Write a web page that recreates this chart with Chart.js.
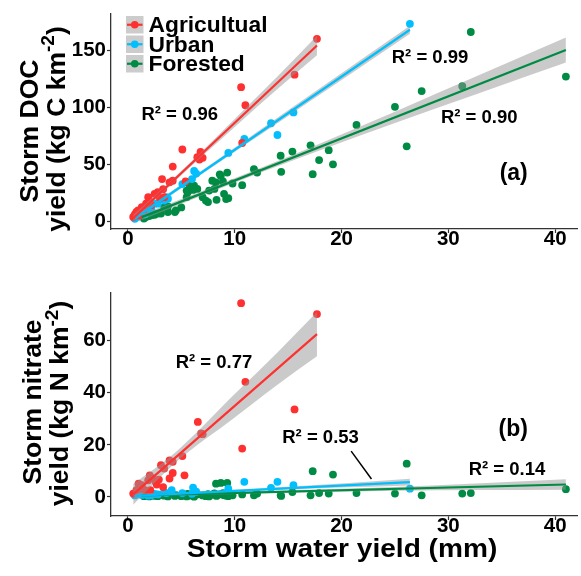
<!DOCTYPE html>
<html><head><meta charset="utf-8">
<script src="https://cdn.jsdelivr.net/npm/chart.js@4.4.0/dist/chart.umd.min.js"></script>
<style>
html,body{margin:0;padding:0;background:#fff;}
#wrap{position:relative;width:581px;height:576px;overflow:hidden;background:#fff;}
canvas{position:absolute;left:0;}
</style></head><body>
<div id="wrap">
<canvas id="cA" width="581" height="262" style="top:0px"></canvas>
<canvas id="cB" width="581" height="314" style="top:262px"></canvas>
</div>
<script>
// ---------- data ----------
const categories = ['Agricultual', 'Urban', 'Forested'];
const xTickValues = [0, 10, 20, 30, 40];
const docTickValues = [0, 50, 100, 150];
const no3TickValues = [0, 20, 40, 60];

// Panel (a): storm DOC yield (kg C km-2) vs storm water yield (mm)
const agWaterA = [0.5, 0.65, 0.8, 0.96, 1.1, 1.3, 1.5, 1.7, 1.9, 2.0, 2.2, 2.5, 2.8, 3.0, 3.2, 3.3, 3.4, 3.9, 4.2, 4.2, 5.1, 5.4, 6.5, 6.7, 6.8, 7.0, 10.6, 10.7, 11.0, 15.6, 17.7];
const agDoc    = [3.7, 6, 8, 9.5, 5, 12.3, 10, 15.3, 21, 18, 14, 23.9, 25.3, 20, 36.9, 28, 21, 34, 35.4, 47.8, 62.8, 34.8, 56, 54, 60.7, 55.5, 117.4, 68.5, 101.6, 128.4, 159.8];
const urWaterA = [0.65, 0.9, 1.3, 1.6, 1.9, 2.2, 2.5, 2.8, 3.4, 3.6, 3.75, 5.1, 6.0, 6.2, 6.4, 9.4, 10.9, 13.4, 14.0, 15.5, 26.4];
const urDoc    = [2, 3.7, 8, 6, 12.3, 10, 15.3, 15.3, 18, 21, 19.6, 32.5, 36.9, 44, 41.7, 59.8, 72, 85.8, 75.5, 95.3, 173];
const foWaterA = [1.5, 1.7, 2.0, 2.2, 2.5, 2.8, 3.1, 3.4, 3.75, 3.75, 4.4, 4.5, 5.0, 5.5, 5.5, 5.6, 5.8, 6.1, 6.2, 6.5, 7.0, 7.3, 7.5, 7.6, 7.9, 8.1, 8.25, 8.3, 8.6, 8.7, 8.9, 9.0, 9.2, 9.3, 9.4, 9.8, 10.7, 11.8, 12.1, 14.3, 14.35, 15.4, 17.1, 17.3, 17.9, 18.8, 19.2, 21.4, 25.0, 26.1, 27.5, 31.3, 32.1, 41.0];
const foDoc    = [2.3, 3.7, 4.5, 5.2, 5.5, 6.6, 6.6, 12.3, 8, 13, 8, 9.5, 12, 21, 26.8, 25.3, 31, 27.4, 31, 28.2, 21, 18, 16.7, 26.8, 35.4, 28.2, 34, 18.7, 41, 39.7, 34.8, 23.9, 19.3, 42.6, 20.1, 33, 31.5, 45.5, 42.6, 57.3, 43.2, 61, 66.5, 41.2, 53.5, 62.2, 49.8, 84.3, 100.2, 65.6, 114, 118.3, 165.8, 126.7];

// Panel (a) fitted lines and 95% bands
const agDocFitX = [0.5, 17.7],  agDocFitY = [2.5, 154];
const urDocFitX = [0.65, 26.4], urDocFitY = [2.5, 167.8];
const foDocFitX = [1.3, 41.0],  foDocFitY = [3.5, 150];
const agDocBandX = [0.5, 4.5, 10, 14, 17.7], agDocBandHi = [5.5, 39.5, 89.6, 126.8, 162.5], agDocBandLo = [-0.5, 35.9, 82.6, 115.8, 145.5];
const urDocBandX = [0.65, 6, 15, 26.4],      urDocBandHi = [4.5, 38.3, 97.1, 171.3],        urDocBandLo = [0.5, 35.3, 92.1, 164.3];
const foDocBandX = [1.3, 12, 25, 33, 41],    foDocBandHi = [6, 45, 96, 128.5, 161],         foDocBandLo = [1, 41, 86, 112.5, 139];

// Panel (b): storm nitrate yield (kg N km-2) vs storm water yield (mm)
const agWaterB = [0.5, 0.8, 1.0, 1.1, 1.3, 1.6, 1.9, 2.05, 2.1, 2.35, 2.6, 2.7, 2.9, 3.1, 3.3, 3.4, 3.9, 3.9, 4.2, 4.2, 5.1, 5.3, 6.55, 6.85, 7.0, 10.6, 10.7, 11.0, 15.6, 17.7];
const agNo3    = [1.3, 2.6, 5.1, 3.2, 4.5, 2.6, 6.4, 8.3, 2.6, 7.1, 5.8, 4.8, 6.7, 12.2, 3.8, 10.9, 14, 7.1, 13.5, 9.2, 15.7, 8.3, 28.8, 24.4, 24.1, 74.4, 18.6, 44.2, 33.6, 70.2];
const urWaterB = [0.65, 0.9, 1.3, 1.6, 1.9, 2.2, 2.5, 2.8, 3.4, 3.6, 4.1, 5.1, 6.0, 6.1, 6.4, 9.4, 10.9, 13.4, 14.0, 15.5, 26.4];
const urNo3    = [0.6, 1.0, 0.8, 1.0, 0.5, 0.7, 1.2, 1.0, 1.9, 1.5, 2.6, 1.5, 1.2, 3.6, 2.0, 3.2, 5.8, 3.5, 5.8, 4.5, 3.2];
const foWaterB = foWaterA;
const foNo3    = [0.3, 0.5, 0.2, 0.6, 0.4, 0.3, 0.8, 0.5, 0.2, 0.9, 0.4, 0.7, 0.3, 0.9, 0.2, 1.2, 0.5, 0.8, 0.1, 1.0, 0.6, 0.3, 1.1, 0.2, 0.9, 1.4, 5.1, 0.4, 1.0, 5.4, 1.5, 0.7, 0.5, 5.4, 0.3, 0.65, 1.0, 0.65, 1.3, 0.65, 0.4, 1.9, 0.65, 9.9, 1.5, 1.3, 8.6, 1.5, 1.3, 12.8, 0.65, 1.3, 1.5, 3.0];

const agNo3FitX = [0.5, 17.7],  agNo3FitY = [1.0, 62.5];
const urNo3FitX = [0.65, 26.4], urNo3FitY = [0.45, 5.7];
const foNo3FitX = [1.3, 41.0],  foNo3FitY = [0.6, 4.8];
const agNo3BandX = [0.5, 4.5, 10, 14, 17.7], agNo3BandHi = [5, 17.3, 39.5, 55.5, 71], agNo3BandLo = [-3, 13.3, 30.5, 43.1, 54];
const urNo3BandX = [0.65, 6, 15, 26.4],      urNo3BandHi = [1.2, 2.0, 3.9, 7.0],     urNo3BandLo = [-0.3, 1.1, 2.9, 4.4];
const foNo3BandX = [1.3, 12, 25, 41],        foNo3BandHi = [1.2, 2.2, 3.8, 6.8],     foNo3BandLo = [0.0, 1.3, 2.4, 2.8];

// ---------- styling ----------
const FONT = "'Liberation Sans', Arial, Helvetica, sans-serif";
const seriesColors = ['#FF3030', '#00BFFF', '#008B45'];
const bandColor = 'rgba(150,150,150,0.5)';
const X_MIN = -1.58, X_MAX = 42.05;

function pts(xs, ys) { return xs.map((x, i) => ({x: x, y: ys[i]})); }

function buildDatasets(pointSets, fitSets, bandSets) {
  const ds = [];
  pointSets.forEach((p, i) => ds.push({
    type: 'scatter', label: categories[i], data: p, showLine: false,
    pointRadius: 3.9, pointHoverRadius: 3.9, pointBackgroundColor: seriesColors[i],
    pointBorderColor: 'rgba(0,0,0,0)', pointBorderWidth: 0, order: 3
  }));
  bandSets.forEach((b) => {
    ds.push({type: 'line', data: pts(b.x, b.hi), borderColor: 'rgba(0,0,0,0)', borderWidth: 0,
      pointRadius: 0, fill: '+1', backgroundColor: bandColor, order: 2, cubicInterpolationMode: 'monotone'});
    ds.push({type: 'line', data: pts(b.x, b.lo), borderColor: 'rgba(0,0,0,0)', borderWidth: 0,
      pointRadius: 0, fill: false, order: 2, cubicInterpolationMode: 'monotone'});
  });
  fitSets.forEach((f, i) => ds.push({
    type: 'line', data: pts(f.x, f.y), borderColor: seriesColors[i], borderWidth: 2.2,
    pointRadius: 0, fill: false, order: 1
  }));
  return ds;
}

const tickFont = {family: FONT, size: 20.5, weight: 'bold', lineHeight: 1.2};

function xScale(h) {
  return {
    type: 'linear', min: X_MIN, max: X_MAX,
    afterBuildTicks: s => { s.ticks = xTickValues.map(v => ({value: v})); },
    ticks: {color: '#000', font: tickFont, padding: -6, maxRotation: 0, autoSkip: false},
    grid: {drawOnChartArea: false, drawTicks: true, tickLength: 4, color: '#333', tickWidth: 1.2},
    border: {display: true, color: '#333', width: 1.3},
    afterFit: s => { s.height = h; }
  };
}
function yScale(min, max, tickVals) {
  return {
    type: 'linear', min: min, max: max,
    afterBuildTicks: s => { s.ticks = tickVals.map(v => ({value: v})); },
    ticks: {color: '#000', font: tickFont, padding: 1, autoSkip: false},
    grid: {drawOnChartArea: false, drawTicks: true, tickLength: 4, color: '#333', tickWidth: 1.2},
    border: {display: true, color: '#333', width: 1.3},
    afterFit: s => { s.width = 111; }
  };
}

// rich text (with superscript) drawn as real text
function drawRich(ctx, parts, size, sx) {
  const sup = size * 0.72;
  let total = 0;
  const widths = parts.map(p => {
    ctx.font = 'bold ' + (p.sup ? sup : size) + 'px ' + FONT;
    const w = ctx.measureText(p.t).width;
    total += w; return w;
  });
  ctx.scale(sx || 1, 1);
  let x = -total / 2;
  parts.forEach((p, i) => {
    ctx.font = 'bold ' + (p.sup ? sup : size) + 'px ' + FONT;
    ctx.textAlign = 'left'; ctx.textBaseline = 'alphabetic';
    ctx.fillText(p.t, x, p.sup ? -size * 0.38 : 0);
    x += widths[i];
  });
}

const annotationPlugin = {
  id: 'annot',
  afterDraw(chart, args, opts) {
    const ctx = chart.ctx, xs = chart.scales.x, ys = chart.scales.y;
    ctx.save();
    ctx.fillStyle = '#000';
    (opts.yTitle || []).forEach(l => {
      ctx.save();
      ctx.translate(l.bx, l.cy);
      ctx.rotate(-Math.PI / 2);
      drawRich(ctx, l.parts, l.size, l.sx);
      ctx.restore();
    });
    if (opts.xTitle) {
      const l = opts.xTitle;
      ctx.save();
      ctx.translate(l.cx, l.by);
      drawRich(ctx, l.parts, l.size, l.sx);
      ctx.restore();
    }
    (opts.labels || []).forEach(a => {
      ctx.font = 'bold ' + a.size + 'px ' + FONT;
      ctx.textAlign = 'left'; ctx.textBaseline = 'middle';
      ctx.fillText(a.text, xs.getPixelForValue(a.x), ys.getPixelForValue(a.y));
    });
    (opts.leaders || []).forEach(s => {
      ctx.strokeStyle = '#000'; ctx.lineWidth = 1.5;
      ctx.beginPath();
      ctx.moveTo(xs.getPixelForValue(s.x1), ys.getPixelForValue(s.y1));
      ctx.lineTo(xs.getPixelForValue(s.x2), ys.getPixelForValue(s.y2));
      ctx.stroke();
    });
    if (opts.legend) {
      const L = opts.legend;
      categories.forEach((c, i) => {
        const top = L.top + i * L.step;
        ctx.fillStyle = '#CCCCCC';
        ctx.fillRect(L.left, top, L.key, L.key);
        ctx.strokeStyle = seriesColors[i]; ctx.lineWidth = 2.2;
        ctx.beginPath(); ctx.moveTo(L.left + 1, top + L.key / 2); ctx.lineTo(L.left + L.key - 1, top + L.key / 2); ctx.stroke();
        ctx.fillStyle = seriesColors[i];
        ctx.beginPath(); ctx.arc(L.left + L.key / 2, top + L.key / 2, 3.8, 0, Math.PI * 2); ctx.fill();
        ctx.fillStyle = '#000';
        ctx.font = 'bold ' + L.size + 'px ' + FONT;
        ctx.textAlign = 'left'; ctx.textBaseline = 'middle';
        ctx.fillText(c, L.left + L.key + 5, top + L.key / 2 + 1);
      });
    }
    ctx.restore();
  }
};

const common = {
  responsive: false, animation: false, devicePixelRatio: 1,
  plugins: {legend: {display: false}, tooltip: {enabled: false}}
};

new Chart(document.getElementById('cA'), {
  type: 'scatter',
  data: {datasets: buildDatasets(
    [pts(agWaterA, agDoc), pts(urWaterA, urDoc), pts(foWaterA, foDoc)],
    [{x: agDocFitX, y: agDocFitY}, {x: urDocFitX, y: urDocFitY}, {x: foDocFitX, y: foDocFitY}],
    [{x: agDocBandX, hi: agDocBandHi, lo: agDocBandLo}, {x: urDocBandX, hi: urDocBandHi, lo: urDocBandLo}, {x: foDocBandX, hi: foDocBandHi, lo: foDocBandLo}]
  )},
  options: Object.assign({}, common, {
    layout: {padding: {top: 10, right: 1, left: 0, bottom: 0}},
    scales: {x: xScale(33), y: yScale(-6.9, 182.2, docTickValues)},
    plugins: Object.assign({}, common.plugins, {annot: {
      yTitle: [
        {bx: 38, cy: 131, size: 26.5, parts: [{t: 'Storm DOC'}]},
        {bx: 64.5, cy: 129, size: 26.5, parts: [{t: 'yield (kg C km'}, {t: '-2', sup: true}, {t: ')'}]}
      ],
      labels: [
        {text: 'R\u00B2 = 0.96', x: 1.27, y: 93.3, size: 18.5},
        {text: 'R\u00B2 = 0.99', x: 24.7, y: 143.3, size: 18.5},
        {text: 'R\u00B2 = 0.90', x: 29.3, y: 90.9, size: 18.5},
        {text: '(a)', x: 34.8, y: 41.2, size: 23}
      ],
      legend: {left: 126, top: 16, step: 19.5, key: 17.5, size: 22.8}
    }})
  }),
  plugins: [annotationPlugin]
});

new Chart(document.getElementById('cB'), {
  type: 'scatter',
  data: {datasets: buildDatasets(
    [pts(agWaterB, agNo3), pts(urWaterB, urNo3), pts(foWaterB, foNo3)],
    [{x: agNo3FitX, y: agNo3FitY}, {x: urNo3FitX, y: urNo3FitY}, {x: foNo3FitX, y: foNo3FitY}],
    [{x: agNo3BandX, hi: agNo3BandHi, lo: agNo3BandLo}, {x: urNo3BandX, hi: urNo3BandHi, lo: urNo3BandLo}, {x: foNo3BandX, hi: foNo3BandHi, lo: foNo3BandLo}]
  )},
  options: Object.assign({}, common, {
    layout: {padding: {top: 31, right: 1, left: 0, bottom: 0}},
    scales: {x: xScale(60), y: yScale(-7.3, 78.3, no3TickValues)},
    plugins: Object.assign({}, common.plugins, {annot: {
      yTitle: [
        {bx: 40.5, cy: 140, size: 26.5, parts: [{t: 'Storm nitrate'}]},
        {bx: 68, cy: 141.5, size: 26.5, parts: [{t: 'yield (kg N km'}, {t: '-2', sup: true}, {t: ')'}]}
      ],
      xTitle: {cx: 342, by: 294.7, size: 26, sx: 1.08, parts: [{t: 'Storm water yield (mm)'}]},
      labels: [
        {text: 'R\u00B2 = 0.77', x: 4.47, y: 51.3, size: 18.5},
        {text: 'R\u00B2 = 0.53', x: 14.45, y: 22.5, size: 18.5},
        {text: 'R\u00B2 = 0.14', x: 31.9, y: 10.5, size: 18.5},
        {text: '(b)', x: 34.7, y: 25.9, size: 23}
      ],
      leaders: [{x1: 20.9, y1: 17.6, x2: 22.8, y2: 6.9}]
    }})
  }),
  plugins: [annotationPlugin]
});
</script>
</body></html>
